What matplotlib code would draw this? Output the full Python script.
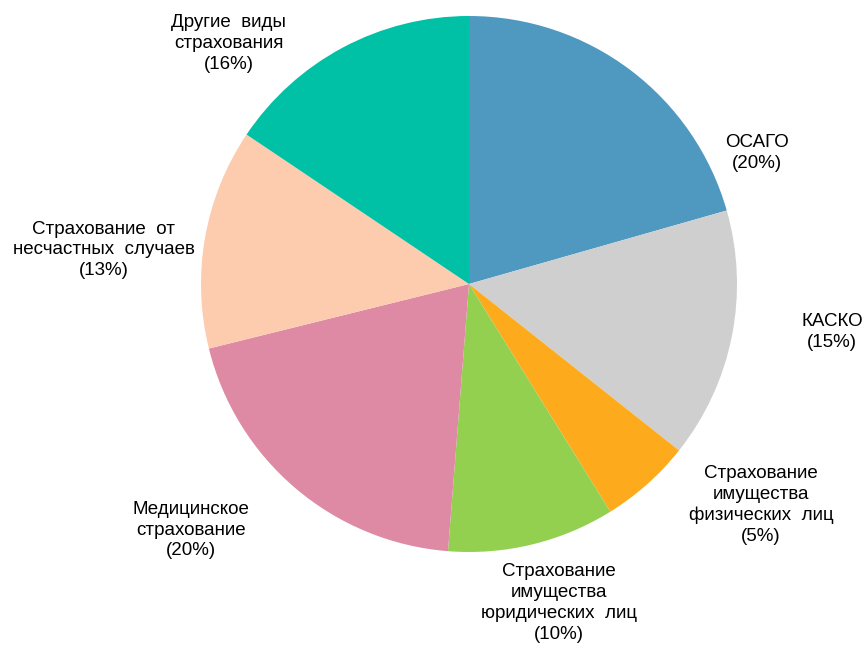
import matplotlib
matplotlib.use("Agg")
import matplotlib.pyplot as plt

plt.rcParams["font.family"] = ["Liberation Sans", "DejaVu Sans"]

# доли видов страхования, по часовой стрелке от 12 часов
values = [20.6, 15.1, 5.5, 10.1, 19.9, 13.3, 15.6]
labels = [
    "ОСАГО\n(20%)",
    "КАСКО\n(15%)",
    "Страхование\nимущества\nфизических  лиц\n(5%)",
    "Страхование\nимущества\nюридических  лиц\n(10%)",
    "Медицинское\nстрахование\n(20%)",
    "Страхование  от\nнесчастных  случаев\n(13%)",
    "Другие  виды\nстрахования\n(16%)",
]
colors = ["#4F99C1", "#D0CFD0", "#FDAB1C", "#94D050", "#DE8AA5", "#FDCCAE", "#00C0A6"]

# позиции подписей (в радиусах пирога)
label_pos = [
    (1.075, 0.49),
    (1.354, -0.18),
    (1.09, -0.825),
    (0.336, -1.19),
    (-1.037, -0.918),
    (-1.362, 0.127),
    (-0.896, 0.896),
]

fig = plt.figure(figsize=(8.65, 6.45), dpi=100)
ax = fig.add_axes([0, 0, 1, 1])
ax.pie(values, colors=colors, startangle=90, counterclock=False, radius=1)

for text, (x, y) in zip(labels, label_pos):
    ax.text(x, y, text, ha="center", va="center", fontsize=13.5,
            linespacing=1.3, color="#000000")

# центр пирога ~ (469, 284) px, радиус ~268 px
ax.set_aspect("auto")
ax.set_xlim(-469 / 268, (865 - 469) / 268)
ax.set_ylim(-(645 - 284) / 268, 284 / 268)
ax.axis("off")

fig.savefig("out.png", dpi=100)
